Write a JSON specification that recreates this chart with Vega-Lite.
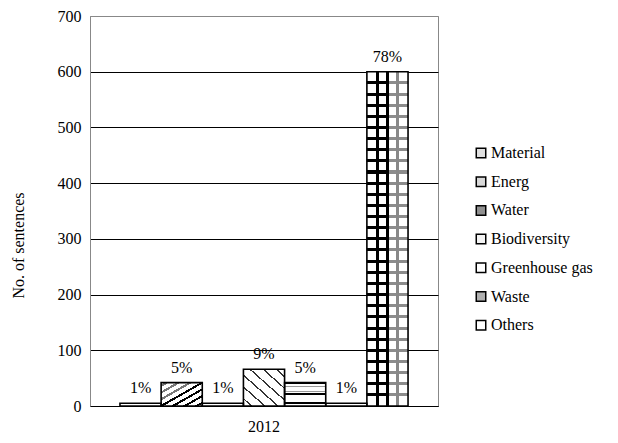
{
  "$schema": "https://vega.github.io/schema/vega-lite/v6.json",
  "autosize": {"type": "none"},
  "padding": {"left": 90, "top": 16, "right": 180, "bottom": 37},
  "width": 348,
  "height": 390,
  "background": "white",
  "config": {
    "font": "Liberation Serif",
    "view": {"stroke": "#888", "strokeWidth": 1},
    "legend": {"labelFont": "Liberation Serif", "labelFontSize": 16, "labelColor": "black"},
    "axis": {"labelFont": "Liberation Serif", "titleFont": "Liberation Serif"}
  },
  "data": {
    "values": [
      {"year": "2012", "series": "Material", "value": 5, "label": "1%"},
      {"year": "2012", "series": "Energ", "value": 42, "label": "5%"},
      {"year": "2012", "series": "Water", "value": 5, "label": "1%"},
      {"year": "2012", "series": "Biodiversity", "value": 66, "label": "9%"},
      {"year": "2012", "series": "Greenhouse gas", "value": 42, "label": "5%"},
      {"year": "2012", "series": "Waste", "value": 5, "label": "1%"},
      {"year": "2012", "series": "Others", "value": 600, "label": "78%"}
    ]
  },
  "encoding": {
    "x": {
      "field": "year", "type": "nominal",
      "scale": {"paddingInner": 0, "paddingOuter": 0.104},
      "axis": {
        "title": null, "labelAngle": 0, "ticks": false, "domainColor": "black", "domainWidth": 1,
        "labelFont": "Liberation Serif", "labelFontSize": 16, "labelColor": "black", "labelPadding": 12
      }
    },
    "xOffset": {
      "field": "series", "type": "nominal",
      "sort": ["Material", "Energ", "Water", "Biodiversity", "Greenhouse gas", "Waste", "Others"],
      "scale": {"paddingInner": 0, "paddingOuter": 0}
    },
    "y": {
      "field": "value", "type": "quantitative",
      "scale": {"domain": [0, 700], "nice": false},
      "axis": {
        "values": [0, 100, 200, 300, 400, 500, 600, 700],
        "title": "No. of sentences",
        "titleFont": "Liberation Serif", "titleFontSize": 16, "titleFontWeight": "normal", "titleColor": "black",
        "titleX": -72, "titleY": 229, "titleAngle": -90, "titleBaseline": "middle", "titleAlign": "center",
        "labelFont": "Liberation Serif", "labelFontSize": 16, "labelColor": "black", "labelPadding": 9,
        "ticks": false, "tickSize": 0, "domainColor": "#888", "domainWidth": 1,
        "grid": true, "gridWidth": 1,
        "gridColor": {"condition": {"test": "datum.value === 700", "value": "#888"}, "value": "black"}
      }
    }
  },
  "layer": [
    {
      "mark": {"type": "bar"},
      "encoding": {
        "color": {
          "field": "series", "type": "nominal",
          "scale": {
            "domain": ["Material", "Energ", "Water", "Biodiversity", "Greenhouse gas", "Waste", "Others"],
            "range": ["#e0e0e0", "#d8d8d8", "#909090", "#f4f4f4", "#ffffff", "#b0b0b0", "#ffffff"]
          },
          "legend": {
            "title": null, "orient": "none", "legendX": 383, "legendY": 129, "padding": 0,
            "symbolType": "square", "symbolSize": 90, "symbolStrokeColor": "black", "symbolStrokeWidth": 1.5,
            "symbolOpacity": 1,
            "labelFont": "Liberation Serif", "labelFontSize": 16, "labelColor": "black", "labelOffset": 2,
            "rowPadding": 12.7,
            "labelExpr": "datum.label",
            "encode": {"labels": {"update": {"font": {"value": "Liberation Serif"}, "fontSize": {"value": 16}, "fill": {"value": "black"}}}}
          }
        }
      }
    },
    {
      "mark": {"type": "bar", "fill": "white"}
    },
    {
      "transform": [{"filter": "datum.series === 'Energ'"}],
      "mark": {"type": "bar", "fill": {
        "gradient": "linear", "x1": 0, "y1": 0, "x2": 1, "y2": 1,
        "stops": [
          {"offset": 0, "color": "#fff"},
          {"offset": 0.045, "color": "#fff"}, {"offset": 0.045, "color": "#777"}, {"offset": 0.095, "color": "#777"}, {"offset": 0.095, "color": "#fff"},
          {"offset": 0.188, "color": "#fff"}, {"offset": 0.188, "color": "#777"}, {"offset": 0.238, "color": "#777"}, {"offset": 0.238, "color": "#fff"},
          {"offset": 0.331, "color": "#fff"}, {"offset": 0.331, "color": "#777"}, {"offset": 0.381, "color": "#777"}, {"offset": 0.381, "color": "#fff"},
          {"offset": 0.475, "color": "#fff"}, {"offset": 0.475, "color": "#000"}, {"offset": 0.525, "color": "#000"}, {"offset": 0.525, "color": "#fff"},
          {"offset": 0.618, "color": "#fff"}, {"offset": 0.618, "color": "#000"}, {"offset": 0.668, "color": "#000"}, {"offset": 0.668, "color": "#fff"},
          {"offset": 0.761, "color": "#fff"}, {"offset": 0.761, "color": "#000"}, {"offset": 0.811, "color": "#000"}, {"offset": 0.811, "color": "#fff"},
          {"offset": 0.904, "color": "#fff"}, {"offset": 0.904, "color": "#000"}, {"offset": 0.954, "color": "#000"}, {"offset": 0.954, "color": "#fff"},
          {"offset": 1, "color": "#fff"}
        ]
      }}
    },
    {
      "transform": [{"filter": "datum.series === 'Biodiversity'"}],
      "mark": {"type": "bar", "fill": {
        "gradient": "linear", "x1": 0, "y1": 1, "x2": 1, "y2": 0,
        "stops": [
          {"offset": 0, "color": "#fff"},
          {"offset": 0.088, "color": "#fff"}, {"offset": 0.088, "color": "#333"}, {"offset": 0.112, "color": "#333"}, {"offset": 0.112, "color": "#fff"},
          {"offset": 0.248, "color": "#fff"}, {"offset": 0.248, "color": "#333"}, {"offset": 0.272, "color": "#333"}, {"offset": 0.272, "color": "#fff"},
          {"offset": 0.408, "color": "#fff"}, {"offset": 0.408, "color": "#333"}, {"offset": 0.432, "color": "#333"}, {"offset": 0.432, "color": "#fff"},
          {"offset": 0.568, "color": "#fff"}, {"offset": 0.568, "color": "#333"}, {"offset": 0.592, "color": "#333"}, {"offset": 0.592, "color": "#fff"},
          {"offset": 0.728, "color": "#fff"}, {"offset": 0.728, "color": "#333"}, {"offset": 0.752, "color": "#333"}, {"offset": 0.752, "color": "#fff"},
          {"offset": 0.888, "color": "#fff"}, {"offset": 0.888, "color": "#333"}, {"offset": 0.912, "color": "#333"}, {"offset": 0.912, "color": "#fff"},
          {"offset": 1, "color": "#fff"}
        ]
      }}
    },
    {
      "transform": [{"filter": "datum.series === 'Greenhouse gas'"}],
      "mark": {"type": "bar", "fill": {
        "gradient": "linear", "x1": 0, "y1": 0, "x2": 0, "y2": 1,
        "stops": [
          {"offset": 0, "color": "#000"}, {"offset": 0.06, "color": "#000"}, {"offset": 0.06, "color": "#fff"},
          {"offset": 0.14, "color": "#fff"}, {"offset": 0.14, "color": "#999"}, {"offset": 0.2, "color": "#999"}, {"offset": 0.2, "color": "#fff"},
          {"offset": 0.34, "color": "#fff"}, {"offset": 0.34, "color": "#999"}, {"offset": 0.4, "color": "#999"}, {"offset": 0.4, "color": "#fff"},
          {"offset": 0.44, "color": "#fff"}, {"offset": 0.44, "color": "#000"}, {"offset": 0.52, "color": "#000"}, {"offset": 0.52, "color": "#fff"},
          {"offset": 0.82, "color": "#fff"}, {"offset": 0.82, "color": "#000"}, {"offset": 0.92, "color": "#000"}, {"offset": 0.92, "color": "#fff"},
          {"offset": 1, "color": "#fff"}
        ]
      }}
    },
    {
      "transform": [{"filter": "datum.series === 'Others'"}],
      "mark": {"type": "bar", "fill": {
        "gradient": "linear", "x1": 0, "y1": 0, "x2": 0, "y2": 1,
        "stops": [
          {"offset": 0, "color": "#fff"},
          {"offset": 0.0288, "color": "#fff"}, {"offset": 0.0288, "color": "#000"}, {"offset": 0.0378, "color": "#000"}, {"offset": 0.0378, "color": "#fff"},
          {"offset": 0.0622, "color": "#fff"}, {"offset": 0.0622, "color": "#000"}, {"offset": 0.0712, "color": "#000"}, {"offset": 0.0712, "color": "#fff"},
          {"offset": 0.0955, "color": "#fff"}, {"offset": 0.0955, "color": "#000"}, {"offset": 0.1045, "color": "#000"}, {"offset": 0.1045, "color": "#fff"},
          {"offset": 0.1288, "color": "#fff"}, {"offset": 0.1288, "color": "#000"}, {"offset": 0.1378, "color": "#000"}, {"offset": 0.1378, "color": "#fff"},
          {"offset": 0.1622, "color": "#fff"}, {"offset": 0.1622, "color": "#000"}, {"offset": 0.1712, "color": "#000"}, {"offset": 0.1712, "color": "#fff"},
          {"offset": 0.1955, "color": "#fff"}, {"offset": 0.1955, "color": "#000"}, {"offset": 0.2045, "color": "#000"}, {"offset": 0.2045, "color": "#fff"},
          {"offset": 0.2288, "color": "#fff"}, {"offset": 0.2288, "color": "#000"}, {"offset": 0.2378, "color": "#000"}, {"offset": 0.2378, "color": "#fff"},
          {"offset": 0.2622, "color": "#fff"}, {"offset": 0.2622, "color": "#000"}, {"offset": 0.2712, "color": "#000"}, {"offset": 0.2712, "color": "#fff"},
          {"offset": 0.2955, "color": "#fff"}, {"offset": 0.2955, "color": "#000"}, {"offset": 0.3045, "color": "#000"}, {"offset": 0.3045, "color": "#fff"},
          {"offset": 0.3288, "color": "#fff"}, {"offset": 0.3288, "color": "#000"}, {"offset": 0.3378, "color": "#000"}, {"offset": 0.3378, "color": "#fff"},
          {"offset": 0.3622, "color": "#fff"}, {"offset": 0.3622, "color": "#000"}, {"offset": 0.3712, "color": "#000"}, {"offset": 0.3712, "color": "#fff"},
          {"offset": 0.3955, "color": "#fff"}, {"offset": 0.3955, "color": "#000"}, {"offset": 0.4045, "color": "#000"}, {"offset": 0.4045, "color": "#fff"},
          {"offset": 0.4288, "color": "#fff"}, {"offset": 0.4288, "color": "#000"}, {"offset": 0.4378, "color": "#000"}, {"offset": 0.4378, "color": "#fff"},
          {"offset": 0.4622, "color": "#fff"}, {"offset": 0.4622, "color": "#000"}, {"offset": 0.4712, "color": "#000"}, {"offset": 0.4712, "color": "#fff"},
          {"offset": 0.4955, "color": "#fff"}, {"offset": 0.4955, "color": "#000"}, {"offset": 0.5045, "color": "#000"}, {"offset": 0.5045, "color": "#fff"},
          {"offset": 0.5288, "color": "#fff"}, {"offset": 0.5288, "color": "#000"}, {"offset": 0.5378, "color": "#000"}, {"offset": 0.5378, "color": "#fff"},
          {"offset": 0.5622, "color": "#fff"}, {"offset": 0.5622, "color": "#000"}, {"offset": 0.5712, "color": "#000"}, {"offset": 0.5712, "color": "#fff"},
          {"offset": 0.5955, "color": "#fff"}, {"offset": 0.5955, "color": "#000"}, {"offset": 0.6045, "color": "#000"}, {"offset": 0.6045, "color": "#fff"},
          {"offset": 0.6288, "color": "#fff"}, {"offset": 0.6288, "color": "#000"}, {"offset": 0.6378, "color": "#000"}, {"offset": 0.6378, "color": "#fff"},
          {"offset": 0.6622, "color": "#fff"}, {"offset": 0.6622, "color": "#000"}, {"offset": 0.6712, "color": "#000"}, {"offset": 0.6712, "color": "#fff"},
          {"offset": 0.6955, "color": "#fff"}, {"offset": 0.6955, "color": "#000"}, {"offset": 0.7045, "color": "#000"}, {"offset": 0.7045, "color": "#fff"},
          {"offset": 0.7288, "color": "#fff"}, {"offset": 0.7288, "color": "#000"}, {"offset": 0.7378, "color": "#000"}, {"offset": 0.7378, "color": "#fff"},
          {"offset": 0.7622, "color": "#fff"}, {"offset": 0.7622, "color": "#000"}, {"offset": 0.7712, "color": "#000"}, {"offset": 0.7712, "color": "#fff"},
          {"offset": 0.7955, "color": "#fff"}, {"offset": 0.7955, "color": "#000"}, {"offset": 0.8045, "color": "#000"}, {"offset": 0.8045, "color": "#fff"},
          {"offset": 0.8288, "color": "#fff"}, {"offset": 0.8288, "color": "#000"}, {"offset": 0.8378, "color": "#000"}, {"offset": 0.8378, "color": "#fff"},
          {"offset": 0.8622, "color": "#fff"}, {"offset": 0.8622, "color": "#000"}, {"offset": 0.8712, "color": "#000"}, {"offset": 0.8712, "color": "#fff"},
          {"offset": 0.8955, "color": "#fff"}, {"offset": 0.8955, "color": "#000"}, {"offset": 0.9045, "color": "#000"}, {"offset": 0.9045, "color": "#fff"},
          {"offset": 0.9288, "color": "#fff"}, {"offset": 0.9288, "color": "#000"}, {"offset": 0.9378, "color": "#000"}, {"offset": 0.9378, "color": "#fff"},
          {"offset": 0.9622, "color": "#fff"}, {"offset": 0.9622, "color": "#000"}, {"offset": 0.9712, "color": "#000"}, {"offset": 0.9712, "color": "#fff"},
          {"offset": 1, "color": "#fff"}
        ]
      }}
    },
    {
      "transform": [{"filter": "datum.series === 'Others'"}],
      "mark": {"type": "bar", "fill": {
        "gradient": "linear", "x1": 0, "y1": 0, "x2": 1, "y2": 0,
        "stops": [
          {"offset": 0, "color": "rgba(255,255,255,0)"},
          {"offset": 0.5, "color": "rgba(255,255,255,0)"},
          {"offset": 0.5, "color": "rgba(255,255,255,0.55)"},
          {"offset": 1, "color": "rgba(255,255,255,0.55)"}
        ]
      }}
    },
    {
      "transform": [{"filter": "datum.series === 'Others'"}],
      "mark": {"type": "bar", "fill": {
        "gradient": "linear", "x1": 0, "y1": 0, "x2": 1, "y2": 0,
        "stops": [
          {"offset": 0, "color": "rgba(0,0,0,0)"},
          {"offset": 0.215, "color": "rgba(0,0,0,0)"}, {"offset": 0.215, "color": "#000"}, {"offset": 0.285, "color": "#000"}, {"offset": 0.285, "color": "rgba(0,0,0,0)"},
          {"offset": 0.465, "color": "rgba(0,0,0,0)"}, {"offset": 0.465, "color": "#000"}, {"offset": 0.535, "color": "#000"}, {"offset": 0.535, "color": "rgba(0,0,0,0)"},
          {"offset": 0.715, "color": "rgba(0,0,0,0)"}, {"offset": 0.715, "color": "#888"}, {"offset": 0.785, "color": "#888"}, {"offset": 0.785, "color": "rgba(0,0,0,0)"},
          {"offset": 1, "color": "rgba(0,0,0,0)"}
        ]
      }}
    },
    {
      "mark": {"type": "bar", "fillOpacity": 0, "stroke": "black", "strokeWidth": 1.6}
    },
    {
      "mark": {"type": "text", "dy": -10, "baseline": "alphabetic", "align": "center", "font": "Liberation Serif", "fontSize": 16, "color": "black"},
      "encoding": {"text": {"field": "label", "type": "nominal"}}
    }
  ]
}
